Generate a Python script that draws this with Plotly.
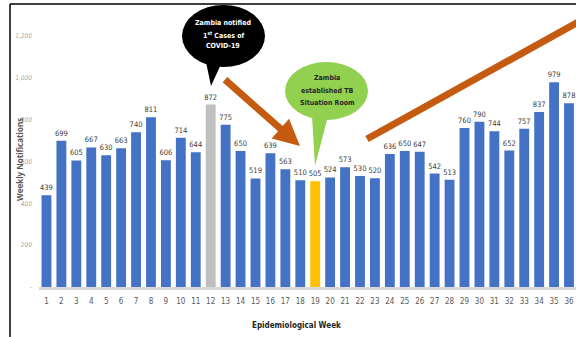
import plotly.graph_objects as go

weeks = list(range(1, 37))
notifications = [439, 699, 605, 667, 630, 663, 740, 811, 606, 714, 644, 872, 775, 650,
                 519, 639, 563, 510, 505, 524, 573, 530, 520, 636, 650, 647, 542, 513,
                 760, 790, 744, 652, 757, 837, 979, 878]
highlight = {12: "#BFBFBF", 19: "#FFC000"}
ytick_vals = [0, 200, 400, 600, 800, 1000, 1200]
ytick_text = ["-", "200", "400", "600", "800", "1,000", "1,200"]

W, H = 576, 337
ML, MB = 39, 50
PW, PH = W - ML, H - MB

def px(p):
    return (p - ML) / PW

def py(p):
    return (PH - p) / PH

colors = [highlight.get(w, "#4472C4") for w in weeks]
FONT = "DejaVu Sans Condensed, DejaVu Sans, sans-serif"

fig = go.Figure(go.Bar(
    x=weeks, y=notifications, marker=dict(color=colors, line=dict(width=0)),
    text=[str(v) for v in notifications], textposition="outside", constraintext="none",
    textfont=dict(family=FONT, size=7.5, color="#404040"), cliponaxis=False,
    width=0.66,
))

fig.update_layout(
    width=W, height=H, margin=dict(l=ML, r=0, t=0, b=MB),
    plot_bgcolor="white", paper_bgcolor="white", showlegend=False,
    font=dict(family=FONT),
    xaxis=dict(range=[0.5, 0.5 + PW / 14.93], tickvals=weeks, ticktext=[str(w) for w in weeks],
               tickfont=dict(size=8, color="#595959"), showgrid=False, showline=True,
               linecolor="#D9D9D9", linewidth=3, ticks="", zeroline=False, ticklabelstandoff=4),
    yaxis=dict(range=[0, PH / 0.2092], tickvals=ytick_vals, ticktext=ytick_text,
               tickfont=dict(size=6.5, color="#A6A6A6", style="italic"), showgrid=False,
               zeroline=False, showline=False, ticks="", ticklabelstandoff=6),
)

shapes = []
# frame lines
shapes.append(dict(type="line", xref="paper", yref="paper", x0=px(10), x1=px(10), y0=py(4), y1=py(340),
                   line=dict(color="black", width=1.5)))
shapes.append(dict(type="line", xref="paper", yref="paper", x0=px(10), x1=px(580), y0=py(4), y1=py(4),
                   line=dict(color="black", width=1.5)))
# black bubble
shapes.append(dict(type="circle", xref="paper", yref="paper", x0=px(182), x1=px(265), y0=py(5), y1=py(67),
                   fillcolor="black", line=dict(width=0), layer="above"))
shapes.append(dict(type="path", xref="paper", yref="paper",
                   path=f"M {px(206)} {py(62)} L {px(222)} {py(62)} L {px(211)} {py(86)} Z",
                   fillcolor="black", line=dict(width=0), layer="above"))
# green bubble
shapes.append(dict(type="circle", xref="paper", yref="paper", x0=px(285), x1=px(368), y0=py(62), y1=py(120),
                   fillcolor="#92D050", line=dict(width=0), layer="above"))
shapes.append(dict(type="path", xref="paper", yref="paper",
                   path=f"M {px(312)} {py(116)} L {px(328)} {py(116)} L {px(315)} {py(166)} Z",
                   fillcolor="#92D050", line=dict(width=0), layer="above"))
# orange rising line
shapes.append(dict(type="line", xref="paper", yref="paper", x0=px(367), y0=py(139), x1=px(600), y1=py(10),
                   line=dict(color="#C55A11", width=7), layer="above"))
fig.update_layout(shapes=shapes)

fig.add_annotation(xref="paper", yref="paper", x=px(300), y=py(146), ax=-78, ay=-69,
                   text=" ", showarrow=True, arrowhead=2, arrowsize=0.75, arrowwidth=7,
                   arrowcolor="#C55A11")

black_lines = ["Zambia notified", "1<sup>st</sup> Cases of", "COVID-19"]
for txt, yy in zip(black_lines, [23, 34.5, 46]):
    fig.add_annotation(xref="paper", yref="paper", x=px(223), y=py(yy), xanchor="center", yanchor="middle",
                       text=f"<b>{txt}</b>", showarrow=False,
                       font=dict(family=FONT, size=7, color="white"))
green_lines = ["Zambia", "established TB", "Situation Room"]
for txt, yy in zip(green_lines, [78, 91, 103]):
    fig.add_annotation(xref="paper", yref="paper", x=px(327), y=py(yy), xanchor="center", yanchor="middle",
                       text=f"<b>{txt}</b>", showarrow=False,
                       font=dict(family=FONT, size=7, color="#262626"))

fig.add_annotation(xref="paper", yref="paper", x=px(19), y=py(160), textangle=-90,
                   xanchor="center", yanchor="middle",
                   text="<b>Weekly Notifications</b>", showarrow=False,
                   font=dict(family="Open Sans, sans-serif", size=8, color="#595959"))
fig.add_annotation(xref="paper", yref="paper", x=px(296), y=py(325), xanchor="center", yanchor="middle",
                   text="<b>Epidemiological Week</b>", showarrow=False,
                   font=dict(family=FONT, size=8, color="#262626"))

fig.write_html("out.html")
